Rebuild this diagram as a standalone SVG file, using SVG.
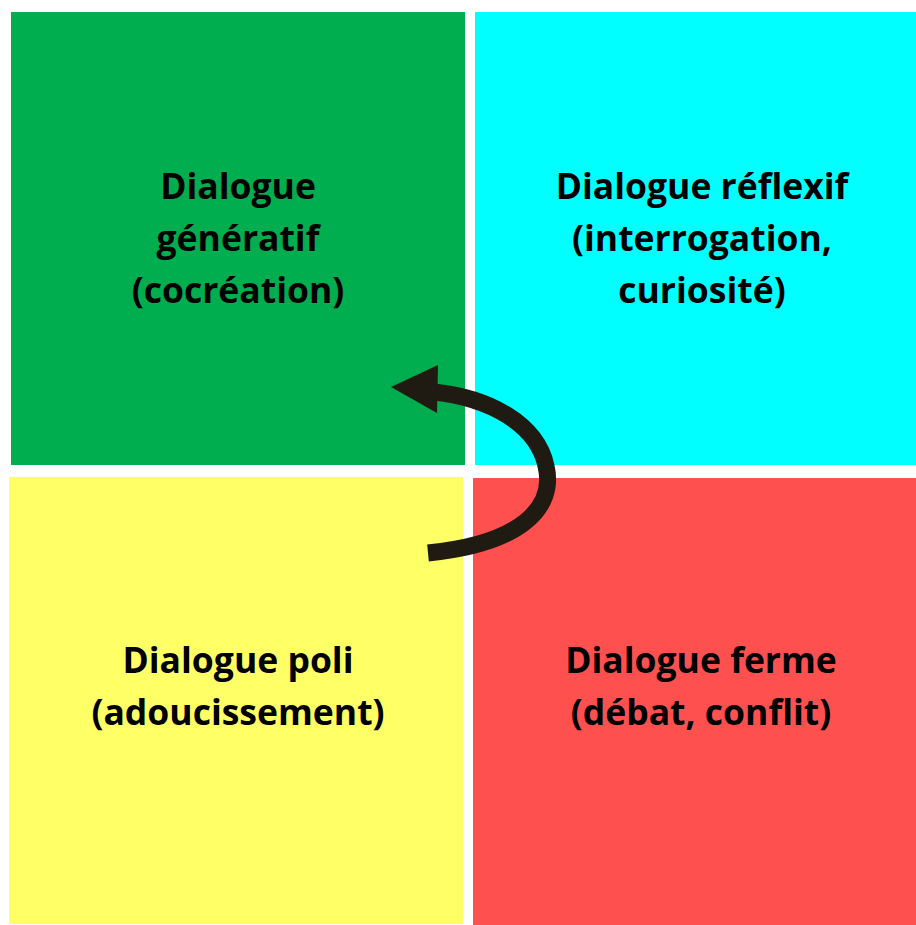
<svg xmlns="http://www.w3.org/2000/svg" width="916" height="925" viewBox="0 0 916 925">
  <style>
    .lbl { font-family: "Open Sans", "Liberation Sans", sans-serif; font-weight: bold; font-size: 35.5px; fill: #000; text-anchor: middle; }
  </style>
  <rect width="916" height="925" fill="#ffffff"/>
  <g id="generatif">
    <rect x="11" y="12" width="454" height="453" fill="#00ad4f"/>
    <text class="lbl" x="238" y="199">Dialogue</text>
    <text class="lbl" x="238" y="251">génératif</text>
    <text class="lbl" x="238" y="303">(cocréation)</text>
  </g>
  <g id="reflexif">
    <rect x="475" y="12" width="441" height="453" fill="#00ffff"/>
    <text class="lbl" x="702" y="199">Dialogue réflexif</text>
    <text class="lbl" x="702" y="251">(interrogation,</text>
    <text class="lbl" x="702" y="303">curiosité)</text>
  </g>
  <g id="poli">
    <rect x="9" y="477" width="454" height="447" fill="#ffff66"/>
    <text class="lbl" x="238" y="673">Dialogue poli</text>
    <text class="lbl" x="238" y="725">(adoucissement)</text>
  </g>
  <g id="ferme">
    <rect x="473" y="478" width="443" height="447" fill="#ff5050"/>
    <text class="lbl" x="701" y="673">Dialogue ferme</text>
    <text class="lbl" x="701" y="725">(débat, conflit)</text>
  </g>
  <g id="connectors">
    <path d="M428,553 C520,544 556,508 546,466 C537,424 490,398 434,392" fill="none" stroke="#1f1b12" stroke-width="17"/>
    <polygon points="391,387 438,365 437,413" fill="#1f1b12"/>
  </g>
</svg>
